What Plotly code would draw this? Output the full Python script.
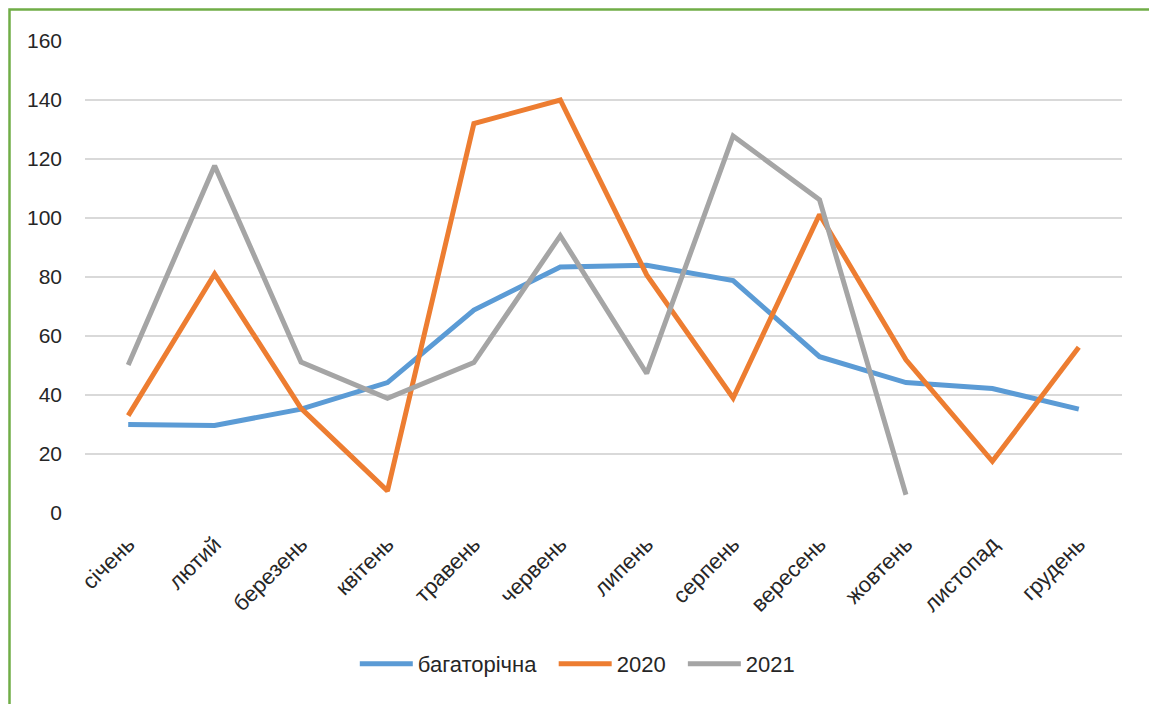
import plotly.graph_objects as go

# Місяці року
months = ["січень", "лютий", "березень", "квітень", "травень", "червень",
          "липень", "серпень", "вересень", "жовтень", "листопад", "грудень"]

# Середні багаторічні значення
multi_year = [30, 29.7, 35.2, 44.2, 68.8, 83.4, 84, 78.8, 53, 44.2, 42.2, 35.2]
# 2020 рік
y2020 = [33, 81, 35.5, 7.5, 132, 140, 80.7, 39, 101.2, 51.9, 17.5, 56.2]
# 2021 рік (дані до жовтня)
y2021 = [50.2, 117.7, 51.2, 38.9, 51, 94, 47.3, 127.8, 106.2, 6.2, None, None]

series_names = ["багаторічна", "2020", "2021"]
series_values = [multi_year, y2020, y2021]
series_colors = ["#5b9bd5", "#ed7d31", "#a5a5a5"]

y_ticks = [0, 20, 40, 60, 80, 100, 120, 140, 160]

fig = go.Figure()
for name, vals, col in zip(series_names, series_values, series_colors):
    fig.add_trace(go.Scatter(
        x=months, y=vals, name=name + "\u00a0\u00a0", mode="lines",
        line=dict(color=col, width=5), connectgaps=False,
    ))

W, H = 1149, 704
ml, mr, mt, mb = 85, 27, 41, 191
pw, ph = W - ml - mr, H - mt - mb

# рамка навколо діаграми
bx0 = (9.5 - ml) / pw
by1 = (H - mb - 9.5) / ph
fig.add_shape(type="rect", xref="paper", yref="paper",
              x0=bx0, x1=1.2, y0=-0.6, y1=by1,
              line=dict(color="#70ad47", width=2.5), layer="below")

fig.update_layout(
    width=W, height=H,
    margin=dict(l=ml, r=mr, t=mt, b=mb),
    paper_bgcolor="white", plot_bgcolor="white",
    font=dict(family="Liberation Sans, Arial, sans-serif", size=21, color="#262626"),
    showlegend=True,
    legend=dict(orientation="h", x=0.481, xanchor="center", y=-0.32, yanchor="middle",
                font=dict(size=22), itemwidth=53, traceorder="normal"),
    xaxis=dict(
        type="category", tickangle=-45, showgrid=False, zeroline=False,
        showline=False, ticks="", ticklabelstandoff=13,
        tickfont=dict(size=22),
        range=[-0.5, len(months) - 0.5],
    ),
    yaxis=dict(
        range=[0, 160], tickvals=y_ticks, showgrid=True, gridcolor="#d9d9d9",
        gridwidth=2, zeroline=False, showline=False, ticks="",
        ticklabelstandoff=22,
    ),
)

fig.write_html("out.html")
